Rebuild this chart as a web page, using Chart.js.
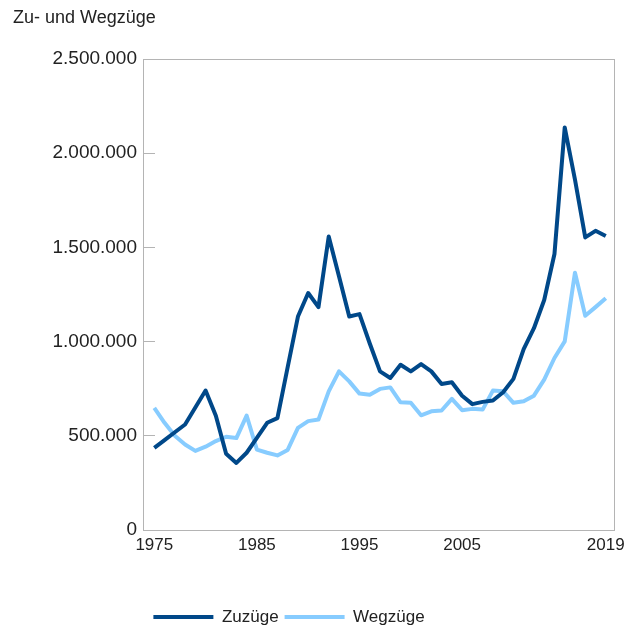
<!DOCTYPE html>
<html>
<head>
<meta charset="utf-8">
<script src="https://cdn.jsdelivr.net/npm/chart.js"></script>
<style>
  html, body { margin: 0; padding: 0; background: #fff; }
  #wrap { width: 641px; height: 627px; }
</style>
</head>
<body>
<div id="wrap"><canvas id="chart"></canvas></div>
<script>
// Jahre und Werte
const years = [1975, 1976, 1977, 1978, 1979, 1980, 1981, 1982, 1983, 1984,
    1985, 1986, 1987, 1988, 1989, 1990, 1991, 1992, 1993, 1994,
    1995, 1996, 1997, 1998, 1999, 2000, 2001, 2002, 2003, 2004,
    2005, 2006, 2007, 2008, 2009, 2010, 2011, 2012, 2013, 2014,
    2015, 2016, 2017, 2018, 2019];

const zuzuege = [436000, 477000, 519000, 560000, 650000, 740000, 606000, 405000, 356000, 410000,
    489000, 569000, 594000, 864000, 1133000, 1258000, 1183000, 1558000, 1347000, 1133000,
    1146000, 990000, 842000, 807000, 877000, 842000, 881000, 842000, 775000, 784000,
    713000, 668000, 680000, 687000, 731000, 802000, 960000, 1071000, 1221000, 1465000,
    2137000, 1860000, 1553000, 1588000, 1560000];

const wegzuege = [648000, 569000, 500000, 454000, 420000, 442000, 472000, 495000, 488000, 607000,
    427000, 410000, 396000, 425000, 542000, 578000, 586000, 736000, 842000, 789000,
    724000, 718000, 749000, 757000, 678000, 675000, 609000, 630000, 634000, 696000,
    636000, 643000, 639000, 740000, 736000, 675000, 683000, 713000, 798000, 913000,
    1001000, 1366000, 1137000, 1183000, 1230000];

const xTicks = [1975, 1985, 1995, 2005, 2019];
const yTicks = [0, 500000, 1000000, 1500000, 2000000, 2500000];

const DARK = "rgb(0, 72, 137)";
const LIGHT = "rgb(135, 204, 255)";
const FRAME = "#b4b4b4";

Chart.defaults.font.family = "'Liberation Sans', Arial, sans-serif";
Chart.defaults.color = "#222";

function fmt(v) {
    return String(v).replace(/\B(?=(\d{3})+(?!\d))/g, ".");
}

// Rahmen um die Zeichenfläche
const frame = {
    id: "frame",
    beforeDatasetsDraw(chart) {
        const a = chart.chartArea;
        const ctx = chart.ctx;
        ctx.save();
        ctx.strokeStyle = FRAME;
        ctx.lineWidth = 1;
        ctx.strokeRect(a.left + 0.5, a.top + 0.5, a.right - a.left - 1, a.bottom - a.top);
        ctx.restore();
    }
};

// Legende etwas nach links unten rücken
const legendShift = {
    id: "legendShift",
    afterLayout(chart) {
        const l = chart.legend;
        l.left -= 25; l.right -= 25;
        l.top += 8.5; l.bottom += 8.5;
    }
};

new Chart(document.getElementById("chart"), {
    type: "line",
    data: {
        datasets: [
            {
                label: "Zuzüge",
                data: years.map((y, i) => ({ x: y, y: zuzuege[i] })),
                borderColor: DARK,
                backgroundColor: DARK,
                borderWidth: 4,
                borderJoinStyle: "round",
                pointRadius: 0,
                fill: false,
                tension: 0
            },
            {
                label: "Wegzüge",
                data: years.map((y, i) => ({ x: y, y: wegzuege[i] })),
                borderColor: LIGHT,
                backgroundColor: LIGHT,
                borderWidth: 4,
                borderJoinStyle: "round",
                pointRadius: 0,
                fill: false,
                tension: 0
            }
        ]
    },
    options: {
        responsive: true,
        maintainAspectRatio: false,
        animation: false,
        layout: { padding: { left: 13, right: 26, top: 0, bottom: 0 } },
        plugins: {
            title: {
                display: true,
                text: "Zu- und Wegzüge",
                align: "start",
                color: "#222",
                font: { size: 18, weight: "normal" },
                padding: { top: 7, bottom: 30.4 }
            },
            legend: {
                position: "bottom",
                labels: {
                    boxWidth: 60,
                    boxHeight: 4,
                    padding: 6,
                    color: "#222",
                    font: { size: 17 },
                    generateLabels(chart) {
                        const items = Chart.defaults.plugins.legend.labels.generateLabels(chart);
                        items.forEach(it => { it.lineWidth = 0; });
                        return items;
                    }
                }
            },
            tooltip: { enabled: false }
        },
        scales: {
            x: {
                type: "linear",
                min: 1973.9,
                max: 2019.9,
                afterBuildTicks(scale) {
                    scale.ticks = xTicks.map(v => ({ value: v }));
                },
                afterFit(scale) { scale.height = 64; },
                grid: { display: false, drawTicks: false },
                border: { display: false },
                ticks: {
                    padding: 5,
                    font: { size: 17 },
                    color: "#222",
                    maxRotation: 0,
                    callback: v => String(v)
                }
            },
            y: {
                min: 0,
                max: 2500000,
                afterBuildTicks(scale) {
                    scale.ticks = yTicks.map(v => ({ value: v }));
                },
                afterFit(scale) { scale.width = 130; },
                grid: {
                    drawOnChartArea: false,
                    drawTicks: true,
                    tickLength: -12,
                    color: FRAME,
                    lineWidth: 1
                },
                border: { display: false },
                ticks: {
                    padding: 18,
                    font: { size: 19 },
                    color: "#222",
                    callback: v => fmt(v)
                }
            }
        }
    },
    plugins: [frame, legendShift]
});
</script>
</body>
</html>
